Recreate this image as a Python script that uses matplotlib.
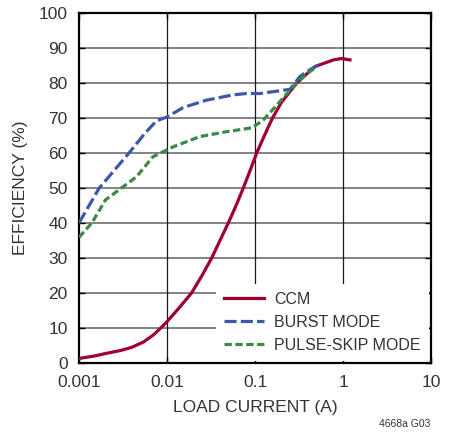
import matplotlib
matplotlib.use("Agg")
import matplotlib.pyplot as plt

# --- data ---
ccm_x = [0.001, 0.0015, 0.002, 0.003, 0.004, 0.0054, 0.007, 0.0085, 0.01, 0.014, 0.019,
         0.025, 0.0322, 0.04, 0.0497, 0.061, 0.0736, 0.088, 0.1045, 0.128, 0.158, 0.2,
         0.298, 0.48, 0.777, 0.966, 1.2]
ccm_y = [1.3, 2.0, 2.7, 3.6, 4.5, 6.0, 8.0, 10.0, 11.8, 16, 20,
         25, 30, 35, 40, 45, 50, 55, 60, 65, 70, 74.5,
         80, 84.7, 86.6, 87.0, 86.6]

burst_x = [0.001, 0.0017, 0.0037, 0.0056, 0.0076, 0.01, 0.0153, 0.028, 0.056, 0.08,
           0.114, 0.25, 0.325, 0.42, 0.57]
burst_y = [40, 50, 60, 65.6, 69.2, 70.3, 73.0, 75.1, 76.6, 77.0,
           77.0, 78.2, 81.9, 83.8, 85.6]

skip_x = [0.001, 0.0014, 0.002, 0.0045, 0.0069, 0.0083, 0.0118, 0.0237, 0.0477, 0.0925,
          0.124, 0.192, 0.272, 0.354, 0.50]
skip_y = [35.9, 40, 46.6, 53.2, 58.9, 59.9, 61.8, 64.7, 66.1, 67.2,
          69.4, 74.7, 79.0, 81.8, 84.7]

x_ticks = [0.001, 0.01, 0.1, 1, 10]
x_labels = ["0.001", "0.01", "0.1", "1", "10"]
y_ticks = list(range(0, 101, 10))

plt.rcParams["font.family"] = ["Liberation Sans", "DejaVu Sans"]
TXT = "#333333"

fig = plt.figure(figsize=(4.6, 4.34), dpi=100)
ax = fig.add_axes([0.1717, 0.1636, 0.9370 - 0.1717, 0.9700 - 0.1636])

line_kw = dict(lw=2.3, solid_joinstyle="round", zorder=3)
ax.plot(ccm_x, ccm_y, color="#A0002C", label="CCM", **line_kw)
ax.plot(burst_x, burst_y, color="#3C58A8", dashes=(3.8, 1.3), label="BURST MODE", **line_kw)
ax.plot(skip_x, skip_y, color="#3A8A48", dashes=(2.3, 1.1), label="PULSE-SKIP MODE", **line_kw)

ax.set_xscale("log")
ax.set_xlim(0.001, 10)
ax.set_ylim(0, 100)
ax.set_xticks(x_ticks)
ax.set_xticklabels(x_labels)
ax.set_yticks(y_ticks)
ax.minorticks_off()

for v in y_ticks[1:-1]:
    ax.axhline(v, color="#6e6e6e", lw=1.2, zorder=1)
for v in x_ticks[1:-1]:
    ax.axvline(v, color="#1a1a1a", lw=0.9, zorder=1)

ax.tick_params(direction="in", length=4, width=1, top=True, right=True,
               labelsize=12.5, labelcolor=TXT)
ax.tick_params(axis="y", pad=8)
ax.tick_params(axis="x", pad=9)
for s in ax.spines.values():
    s.set_linewidth(1.6)

ax.set_xlabel("LOAD CURRENT (A)", fontsize=12.5, color=TXT, labelpad=7)
ax.set_ylabel("EFFICIENCY (%)", fontsize=12.5, color=TXT, labelpad=8)

leg = ax.legend(loc="lower right", frameon=True, fancybox=False, framealpha=1,
                facecolor="white", edgecolor="none", borderaxespad=0.15,
                fontsize=11.5, handlelength=2.5, handletextpad=0.65,
                labelspacing=0.5, borderpad=0.5)
leg.set_zorder(4)
for t in leg.get_texts():
    t.set_color(TXT)

fig.text(0.935, 0.012, "4668a G03", fontsize=7.5, color=TXT, ha="right", va="bottom")

fig.savefig("out.png", dpi=100)
